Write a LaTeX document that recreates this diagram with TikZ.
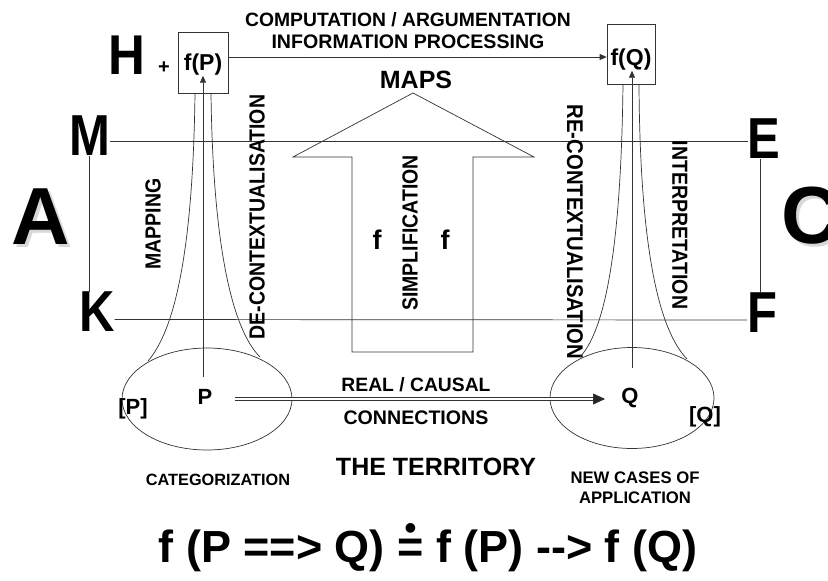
\documentclass[tikz,border=0pt]{standalone}
\usepackage{fontspec}
\setmainfont{Liberation Sans}
\usetikzlibrary{arrows.meta,shapes.geometric,calc}
\newcommand\fsz[1]{\fontsize{#1}{#1}\selectfont\bfseries}
\newcommand\dotEq{\ooalign{=\cr\hidewidth\raisebox{0.52em}{\scalebox{0.75}{\textbullet}}\hidewidth\cr}}
\begin{document}
\begin{tikzpicture}[x=1pt,y=-1pt,
  txt/.style={inner sep=0pt,outer sep=0pt,text=black},
  ln/.style={draw=black!80,line width=0.7pt},
  arr/.style={ln,-{Triangle[length=7pt,width=6pt]}},
  bigl/.style={txt,font=\fsz{49}},
  rotu/.style={txt,rotate=90,font=\fsz{19.5}},
  rotd/.style={txt,rotate=-90,font=\fsz{19.5}},
  shadowtxt/.style={txt,font=\fsz{81},text=black!50,opacity=0.3}]
\useasboundingbox (0,0) rectangle (828,581);
\fill[white] (0,0) rectangle (828,581);

% top boxes
\node[ln,draw,minimum width=50pt,minimum height=61pt,inner sep=0pt] (fP) at (203,62.5) {};
\node[txt,font=\fsz{23}] (fPt) at (203,65) {f(P)};
\node[ln,draw,minimum width=48pt,minimum height=60pt,inner sep=0pt] (fQ) at (631,54) {};
\node[txt,font=\fsz{23}] (fQt) at (631,60) {f(Q)};
\node[txt,font=\fsz{51}] (H) at (127,55) {\scalebox{1}[1.1]{H}};
\node[txt,font=\fsz{20}] (plus) at (164,68) {+};

\node[txt,font=\fsz{19.3}] (comp1) at (408,20) {COMPUTATION / ARGUMENTATION};
\node[txt,font=\fsz{19.6}] (comp2) at (408,42) {INFORMATION PROCESSING};
\draw[arr] ([yshift=5.5pt]fP.east) -- ([yshift=5.5pt]fP.east -| fQ.west);

% MAPS and big arrow
\node[txt,font=\fsz{25}] (maps) at (416,80) {MAPS};
\coordinate (apex) at (413,93);
\draw[ln] (352,352) -- (352,157) -- (293,157) -- (apex) -- (534,157) -- (473,157) -- (473,352) -- cycle;

% letters
\node[bigl] (M) at (90,136) {\scalebox{1}[1.18]{M}};
\node[bigl] (E) at (764,139) {\scalebox{1}[1.18]{E}};
\node[bigl] (K) at (97,312) {\scalebox{1}[1.18]{K}};
\node[bigl] (F) at (762,313) {\scalebox{1}[1.18]{F}};
\draw[ln] ([yshift=-5pt]M.east) -- ([yshift=-2pt]E.west);
\draw[ln] ([yshift=-7.5pt]K.east) -- ([yshift=-7pt]F.west);
\draw[ln] ([xshift=-1pt]M.south) -- ([xshift=-1pt]M.south |- K.north);
\draw[ln] ([xshift=-4pt]E.south) -- ([xshift=-4pt]E.south |- F.north);

% A and C with soft shadow
\node[shadowtxt] (As) at (44,220) {A};
\node[shadowtxt] (Cs) at (814,219) {C};
\node[txt,font=\fsz{81}] (A) at (41,217) {A};
\node[txt,font=\fsz{81}] (C) at (811,216) {C};

% rotated labels
\node[rotu] (mapping) at (153,224) {\scalebox{1}[1.12]{MAPPING}};
\node[rotu] (decon) at (257,217) {\scalebox{1}[1.12]{DE-CONTEXTUALISATION}};
\node[rotu] (simp) at (410,233) {\scalebox{1}[1.12]{SIMPLIFICATION}};
\node[rotd,font=\fsz{20.3}] (recon) at (575,232) {\scalebox{1}[1.12]{RE-CONTEXTUALISATION}};
\node[rotd] (interp) at (680,225) {\scalebox{1}[1.12]{INTERPRETATION}};
\node[txt,font=\fsz{27}] (f1) at (377,240) {f};
\node[txt,font=\fsz{27}] (f2) at (445,240) {f};

% territory
\node[ln,draw,ellipse,minimum width=170pt,minimum height=102pt,inner sep=0pt] (ellP) at (207,399) {};
\node[ln,draw,ellipse,minimum width=164pt,minimum height=101pt,inner sep=0pt] (ellQ) at (632,398) {};
\node[txt,font=\fsz{22}] (P) at (205,397) {P};
\node[txt,font=\fsz{22}] (Pb) at (133,409) {[P]};
\node[txt,font=\fsz{22}] (Q) at (630,398) {Q};
\node[txt,font=\fsz{22}] (Qb) at (705,417) {[Q]};

% funnels
\coordinate (PL) at (148,361);
\coordinate (PR) at (260,357);
\coordinate (QL) at (580,357);
\coordinate (QR) at (687,359);
\coordinate (Ptop) at (203,377);
\coordinate (Qtop) at (632,368);
\draw[ln] ([xshift=-8pt]fP.south) .. controls (193,250) and (175,330) .. (PL);
\draw[ln] ([xshift=8pt]fP.south) .. controls (213,250) and (233,330) .. (PR);
\draw[ln] ([xshift=-8pt]fQ.south) .. controls (621,250) and (605,330) .. (QL);
\draw[ln] ([xshift=8pt]fQ.south) .. controls (640,250) and (659,330) .. (QR);
\draw[arr] (Ptop) -- (fPt.south);
\draw[arr] (Qtop) -- (Qtop |- fQt.south);

% causal arrow
\coordinate (cs) at (235,399);
\coordinate (ce) at (605,399);
\draw[draw=black!80,line width=0.6pt,double,double distance=2pt,shorten >=11pt] (cs) -- (ce);
\draw[-{Triangle[length=12pt,width=11pt]},line width=0.6pt,black!85] ([xshift=-12pt]ce) -- (ce);

\node[txt,font=\fsz{19.3}] (real) at (416,385) {REAL / CAUSAL};
\node[txt,font=\fsz{19.6}] (conn) at (416,418) {CONNECTIONS};
\node[txt,font=\fsz{25}] (terr) at (436,467) {THE TERRITORY};
\node[txt,font=\fsz{16.3}] (cat) at (218,480) {CATEGORIZATION};
\node[txt,font=\fsz{16.7},align=center] (newc) at (635,488) {NEW CASES OF\\[3pt]APPLICATION};

% formula
\node[txt,font=\fsz{45}] (formula) at (428,551) {f (P ==> Q) \dotEq{} f (P) -{}-> f (Q)};
\end{tikzpicture}
\end{document}
